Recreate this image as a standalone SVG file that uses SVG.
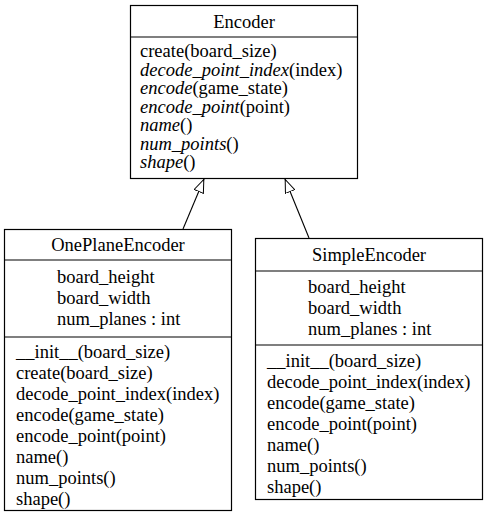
<svg xmlns="http://www.w3.org/2000/svg" width="488" height="518" viewBox="0 0 488 518">
<style>
text{font-family:"Liberation Serif","Times New Roman",serif;font-size:18.5px;fill:#000}
.box{fill:#fff;stroke:#000;stroke-width:1.2}
.div{stroke:#000;stroke-width:1.2}
.i{font-style:italic}
.c{text-anchor:middle}
.edge{fill:none;stroke:#000;stroke-width:1.1}
</style>
<defs>
<marker id="tri" viewBox="0 0 14 11" refX="14" refY="5.5" markerWidth="14" markerHeight="11" markerUnits="userSpaceOnUse" orient="auto">
<path d="M0.5,0.5 L13.5,5.5 L0.5,10.5 Z" fill="#fff" stroke="#000" stroke-width="1"/>
</marker>
</defs>
<rect width="488" height="518" fill="#fff"/>
<g id="Encoder">
<rect class="box" x="130.5" y="5.5" width="227" height="173"/>
<line class="div" x1="130.5" y1="37" x2="357.5" y2="37"/>
<text class="c" x="244" y="28">Encoder</text>
<text x="140" y="57">create(board_size)</text>
<text x="140" y="75.5"><tspan class="i">decode_point_index</tspan>(index)</text>
<text x="140" y="94"><tspan class="i">encode</tspan>(game_state)</text>
<text x="140" y="112.5"><tspan class="i">encode_point</tspan>(point)</text>
<text x="140" y="131"><tspan class="i">name</tspan>()</text>
<text x="140" y="149.5"><tspan class="i">num_points</tspan>()</text>
<text x="140" y="168"><tspan class="i">shape</tspan>()</text>
</g>
<g id="OnePlaneEncoder">
<rect class="box" x="4.5" y="229.5" width="227" height="281"/>
<line class="div" x1="4.5" y1="260" x2="231.5" y2="260"/>
<line class="div" x1="4.5" y1="337" x2="231.5" y2="337"/>
<text class="c" x="118" y="251">OnePlaneEncoder</text>
<text x="57" y="283">board_height</text>
<text x="57" y="304">board_width</text>
<text x="57" y="325">num_planes : int</text>
<text x="16" y="358">__init__(board_size)</text>
<text x="16" y="379">create(board_size)</text>
<text x="16" y="400">decode_point_index(index)</text>
<text x="16" y="421">encode(game_state)</text>
<text x="16" y="442">encode_point(point)</text>
<text x="16" y="463">name()</text>
<text x="16" y="484">num_points()</text>
<text x="16" y="505">shape()</text>
</g>
<g id="SimpleEncoder">
<rect class="box" x="255.5" y="238.5" width="227" height="261"/>
<line class="div" x1="255.5" y1="271" x2="482.5" y2="271"/>
<line class="div" x1="255.5" y1="345" x2="482.5" y2="345"/>
<text class="c" x="369" y="261">SimpleEncoder</text>
<text x="308" y="293">board_height</text>
<text x="308" y="314">board_width</text>
<text x="308" y="335">num_planes : int</text>
<text x="267" y="367">__init__(board_size)</text>
<text x="267" y="388">decode_point_index(index)</text>
<text x="267" y="409">encode(game_state)</text>
<text x="267" y="430">encode_point(point)</text>
<text x="267" y="451">name()</text>
<text x="267" y="472">num_points()</text>
<text x="267" y="493">shape()</text>
</g>
<g id="connectors">
<path class="edge" d="M183,229 L204,179" marker-end="url(#tri)"/>
<path class="edge" d="M309,238 L285,179" marker-end="url(#tri)"/>
</g>
</svg>
